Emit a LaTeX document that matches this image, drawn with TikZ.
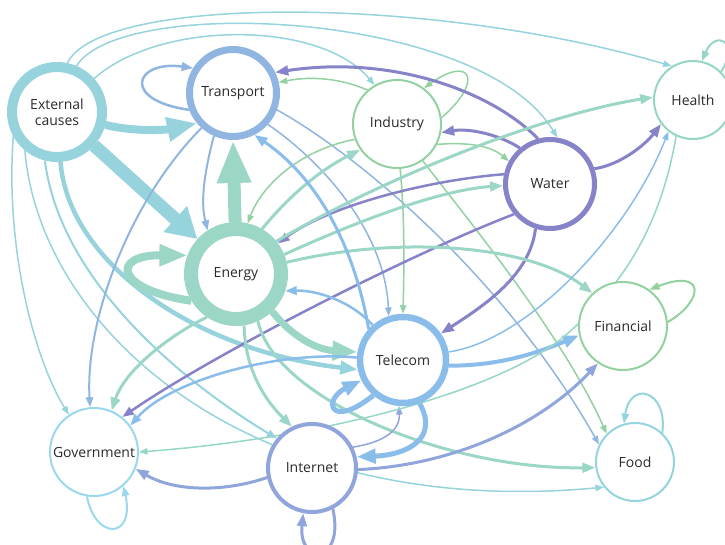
\documentclass[tikz,border=0pt]{standalone}
\usepackage{fontspec}
\setmainfont{Open Sans}
\usetikzlibrary{arrows.meta}
\pgfdeclarelayer{bg}
\pgfsetlayers{bg,main}

\definecolor{extC}{HTML}{96D3DC}
\definecolor{traC}{HTML}{8FB5E0}
\definecolor{indC}{HTML}{93D1A0}
\definecolor{watC}{HTML}{8683C8}
\definecolor{heaC}{HTML}{95D6C6}
\definecolor{eneC}{HTML}{9CD6C6}
\definecolor{finC}{HTML}{93D19E}
\definecolor{telC}{HTML}{8BBDEB}
\definecolor{govC}{HTML}{9AD8EF}
\definecolor{intC}{HTML}{8FA5DB}
\definecolor{fooC}{HTML}{93D4DD}
\definecolor{txtC}{HTML}{2B2B2B}

\newcommand{\nodelabelfont}{\fontsize{14}{16}\selectfont}

\tikzset{
  nd/.style={circle, draw=#1, fill=white, inner sep=0pt, align=center,
             text=txtC, font=\nodelabelfont},
  ar/.style={draw=#1, -{Triangle[length=4pt 3, width=3pt 2.2]}},
}

\begin{document}
\begin{tikzpicture}[x=1pt, y=-1pt]
\useasboundingbox (0,0) rectangle (725,545);

% ---------- nodes ----------
\node[nd=extC, line width=10,  minimum size=90] (ext) at (57,112)  {External\\causes};
\node[nd=traC, line width=7,   minimum size=87] (tra) at (233,93)  {Transport};
\node[nd=indC, line width=2,   minimum size=88] (ind) at (397,124) {Industry};
\node[nd=watC, line width=5,   minimum size=89] (wat) at (550,184) {Water};
\node[nd=heaC, line width=2,   minimum size=78] (hea) at (693,100) {Health};
\node[nd=eneC, line width=14,  minimum size=90] (ene) at (236,274) {Energy};
\node[nd=telC, line width=6.5, minimum size=86] (tel) at (403,360) {Telecom};
\node[nd=finC, line width=2,   minimum size=88] (fin) at (623,326) {Financial};
\node[nd=govC, line width=2,   minimum size=88] (gov) at (94,452)  {Government};
\node[nd=intC, line width=4,   minimum size=88] (int) at (312,468) {Internet};
\node[nd=fooC, line width=2,   minimum size=78] (foo) at (635,462) {Food};

\begin{pgfonlayer}{bg}
% ---------- External causes ----------
\draw[ar=extC, line width=1.5] (ext.78) .. controls (100,-5) and (430,-5) .. (hea.122);
\draw[ar=extC, line width=1.5] (ext.67) .. controls (120,-5) and (480,10) .. (wat.81);
\draw[ar=extC, line width=1.5] (ext.42) .. controls (160,20) and (320,20) .. (ind.120);
\draw[draw=extC, line width=8, -{Triangle[length=30pt, width=23pt]}] (ext.-15) .. controls (135,132) and (165,130) .. (tra.220);
\draw[draw=extC, line width=13, -{Triangle[length=30pt, width=33pt]}] (ext) -- (ene);
\draw[ar=extC, line width=4.5] (ext.-86) .. controls (68,260) and (190,350) .. (tel.192);
\draw[ar=extC, line width=1.5] (ext.209) .. controls (5,250) and (35,360) .. (gov.124);
\draw[ar=extC, line width=1.5] (ext.230) .. controls (40,330) and (250,520) .. (foo.219);
\draw[ar=extC, line width=2] (ext.256) .. controls (60,280) and (180,380) .. (int.140);

% ---------- Transport ----------
\draw[ar=traC, line width=2.5] (tra.201) .. controls (120,100) and (135,60) .. (tra.148);
\draw[ar=traC, line width=2] (tra.246) .. controls (205,170) and (200,200) .. (ene.123);
\draw[ar=traC, line width=2] (tra.228) .. controls (130,200) and (85,320) .. (gov.95);
\draw[ar=traC, line width=1.5] (tra.-42) .. controls (320,160) and (385,230) .. (tel.108);
\draw[ar=traC, line width=1.5] (tra.-21) .. controls (350,150) and (500,270) .. (foo.154);

% ---------- Industry ----------
\draw[ar=indC, line width=1.5] (ind.8) .. controls (485,80) and (470,55) .. (ind.53);
\draw[ar=indC, line width=1.5] (ind.131) .. controls (340,78) and (310,76) .. (tra.13);
\draw[ar=indC, line width=1.5] (ind.-27) .. controls (465,142) and (490,145) .. (wat.151);
\draw[ar=indC, line width=1.5] (ind.200) .. controls (300,150) and (262,185) .. (ene.77);
\draw[ar=indC, line width=1.5] (ind.-86) .. controls (405,220) and (404,270) .. (tel.90);
\draw[ar=indC, line width=1.5] (ind.-55) .. controls (460,210) and (560,330) .. (foo.135);

% ---------- Water ----------
\draw[ar=watC, line width=3] (wat.105) .. controls (490,90) and (390,55) .. (tra.26);
\draw[ar=watC, line width=3] (wat.130) .. controls (500,135) and (470,128) .. (ind.-11);
\draw[ar=watC, line width=2.5] (wat.168) .. controls (430,180) and (330,205) .. (ene.36);
\draw[ar=watC, line width=3] (wat.19) .. controls (620,165) and (645,145) .. (hea.217);
\draw[ar=watC, line width=3] (wat.252) .. controls (530,275) and (485,305) .. (tel.35);
\draw[ar=watC, line width=2.5] (wat.220) .. controls (420,250) and (220,350) .. (gov.51);

% ---------- Energy ----------
\draw[ar=eneC, line width=8] (ene.211) .. controls (115,290) and (110,255) .. (ene.159);
\draw[ar=eneC, line width=13] (ene.91) -- (tra.270);
\draw[ar=eneC, line width=7] (ene.-46) .. controls (295,340) and (320,350) .. (tel.170);
\draw[ar=eneC, line width=3] (ene.60) .. controls (290,195) and (320,170) .. (ind.215);
\draw[ar=eneC, line width=3] (ene.39) .. controls (380,180) and (540,115) .. (hea.176);
\draw[ar=eneC, line width=3] (ene.22) .. controls (360,220) and (440,190) .. (wat.182);
\draw[ar=eneC, line width=3] (ene.13) .. controls (400,235) and (530,245) .. (fin.133);
\draw[ar=eneC, line width=3] (ene.236) .. controls (170,335) and (125,370) .. (gov.67);
\draw[ar=eneC, line width=3] (ene.-81) .. controls (245,370) and (265,400) .. (int.116);
\draw[ar=eneC, line width=3] (ene.-65) .. controls (275,400) and (450,470) .. (foo.188);

% ---------- Telecom ----------
\draw[ar=telC, line width=5] (tel.230) .. controls (330,430) and (322,400) .. (tel.206);
\draw[ar=telC, line width=5] (tel.-69) .. controls (440,440) and (405,455) .. (int.14);
\draw[ar=telC, line width=3] (tel.138) .. controls (355,250) and (320,180) .. (tra.-63);
\draw[ar=telC, line width=2.5] (tel.131) .. controls (350,300) and (315,290) .. (ene.-19);
\draw[ar=telC, line width=2.5] (tel.177) .. controls (280,350) and (170,380) .. (gov.36);
\draw[ar=telC, line width=4] (tel.-7) .. controls (500,366) and (540,352) .. (fin.192);
\draw[ar=telC, line width=1.5] (tel.10) .. controls (530,340) and (630,230) .. (hea.232);

% ---------- Internet ----------
\draw[ar=intC, line width=3] (int.-63) .. controls (345,565) and (298,565) .. (int.259);
\draw[ar=intC, line width=3] (int.192) .. controls (225,492) and (175,492) .. (gov.-22);
\draw[ar=intC, line width=1.5] (int.27) .. controls (385,442) and (400,430) .. (tel.265);
\draw[ar=intC, line width=3] (int.-2) .. controls (460,465) and (545,420) .. (fin.236);

% ---------- Government, Health, Financial, Food ----------
\draw[ar=govC, line width=2] (gov.261) .. controls (95,540) and (135,540) .. (gov.-49);
\draw[ar=heaC, line width=2] (hea.45) .. controls (740,40) and (715,30) .. (hea.77);
\draw[ar=heaC, line width=1.5] (hea.245) .. controls (660,230) and (620,290) .. (560,340)
                                .. controls (480,400) and (300,440) .. (gov.0);
\draw[ar=finC, line width=2] (fin.5) .. controls (705,300) and (705,268) .. (fin.54);
\draw[ar=fooC, line width=2] (foo.47) .. controls (668,390) and (630,380) .. (foo.106);
\end{pgfonlayer}
\end{tikzpicture}
\end{document}
